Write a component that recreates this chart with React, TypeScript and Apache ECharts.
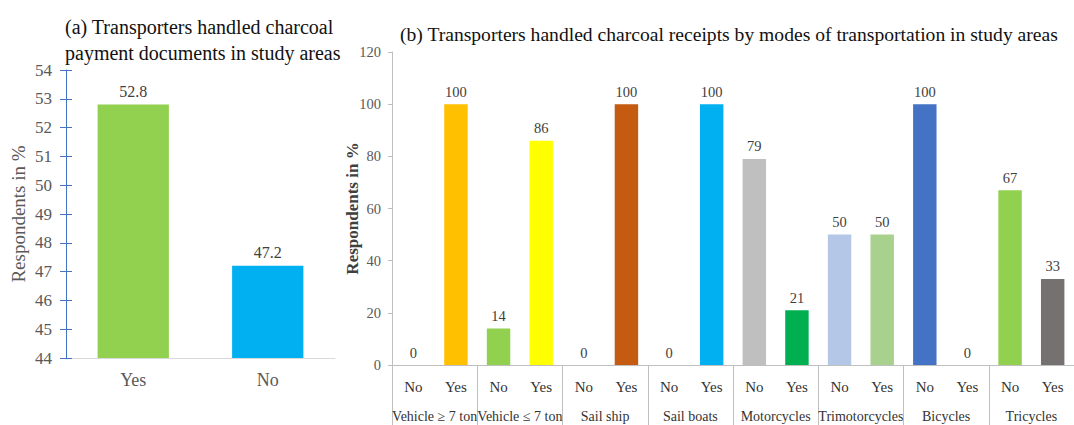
import React, { useEffect, useRef } from "react";
import * as echarts from "echarts";

// Panel (a): payment documents
const docCategories = ["Yes", "No"];
const docValues = [52.8, 47.2];
const docColors = ["#92D050", "#00B0F0"];

// Panel (b): receipts by mode of transportation
const modeGroups = [
  "Vehicle ≥ 7 ton",
  "Vehicle ≤ 7 ton",
  "Sail ship",
  "Sail boats",
  "Motorcycles",
  "Trimotorcycles",
  "Bicycles",
  "Tricycles",
];
const answerLabels = [
  "No", "Yes", "No", "Yes", "No", "Yes", "No", "Yes",
  "No", "Yes", "No", "Yes", "No", "Yes", "No", "Yes",
];
const receiptValues = [0, 100, 14, 86, 0, 100, 0, 100, 79, 21, 50, 50, 100, 0, 67, 33];
const receiptColors = [
  "#FFC000", "#FFC000",
  "#92D050", "#FFFF00",
  "#C55A11", "#C55A11",
  "#00B0F0", "#00B0F0",
  "#BFBFBF", "#00B050",
  "#B4C7E7", "#A9D18E",
  "#4472C4", "#4472C4",
  "#92D050", "#767171",
];

const FONT = "Liberation Serif";

export default function App() {
  const ref = useRef<HTMLDivElement>(null);

  useEffect(() => {
    if (!ref.current) return;
    const chart = echarts.init(ref.current, null, { renderer: "svg" });
    const axisA = {
      gridIndex: 0,
      type: "value",
      min: 44,
      max: 54,
      interval: 1,
      splitLine: { show: false },
    };
    chart.setOption({
      animation: false,
      backgroundColor: "#FFFFFF",
      textStyle: { fontFamily: FONT },
      title: [
        {
          text: "(a) Transporters handled charcoal\npayment documents in study areas",
          left: 60,
          top: 9,
          textStyle: {
            fontFamily: FONT,
            fontSize: 20,
            fontWeight: "normal",
            color: "#111111",
            lineHeight: 26,
          },
        },
        {
          text: "(b) Transporters handled charcoal receipts by modes of transportation in study areas",
          left: 395,
          top: 19,
          textStyle: {
            fontFamily: FONT,
            fontSize: 19.6,
            fontWeight: "normal",
            color: "#111111",
          },
        },
      ],
      grid: [
        { left: 66, top: 70, width: 269, height: 288 },
        { left: 392, top: 52, width: 694, height: 313 },
      ],
      xAxis: [
        {
          gridIndex: 0,
          type: "category",
          data: docCategories,
          axisLine: { lineStyle: { color: "#D9D9D9" } },
          axisTick: { show: false },
          axisLabel: { color: "#595959", fontSize: 18, margin: 13, fontFamily: FONT },
        },
        {
          gridIndex: 1,
          type: "category",
          data: answerLabels,
          axisLine: { lineStyle: { color: "#BFBFBF" } },
          axisTick: { show: false },
          axisLabel: { color: "#333333", fontSize: 15, margin: 14, interval: 0, fontFamily: FONT },
        },
        {
          gridIndex: 1,
          type: "category",
          data: modeGroups,
          position: "bottom",
          axisLine: { show: false },
          axisTick: { show: true, length: 62, lineStyle: { color: "#BFBFBF" } },
          axisLabel: { color: "#333333", fontSize: 14, margin: 44, interval: 0, fontFamily: FONT },
        },
      ],
      yAxis: [
        {
          ...axisA,
          name: "Respondents in %",
          nameLocation: "middle",
          nameGap: 38,
          nameTextStyle: { color: "#595959", fontSize: 19, fontFamily: FONT },
          axisLine: { show: true, lineStyle: { color: "#4472C4" } },
          axisTick: { show: true, length: 6, lineStyle: { color: "#4472C4" } },
          axisLabel: { color: "#595959", fontSize: 17, margin: 14, fontFamily: FONT },
        },
        {
          // inner half of the crossing tick marks
          ...axisA,
          position: "left",
          axisLine: { show: false },
          axisTick: { show: true, inside: true, length: 6, lineStyle: { color: "#4472C4" } },
          axisLabel: { show: false },
        },
        {
          gridIndex: 1,
          type: "value",
          min: 0,
          max: 120,
          interval: 20,
          name: "Respondents in %",
          nameLocation: "middle",
          nameGap: 31,
          nameMoveOverlap: false,
          nameTextStyle: { color: "#404040", fontSize: 17, fontWeight: "bold", fontFamily: FONT },
          axisLine: { show: true, lineStyle: { color: "#BFBFBF" } },
          axisTick: { show: true, length: 4, lineStyle: { color: "#BFBFBF" } },
          axisLabel: { color: "#595959", fontSize: 14.5, margin: 11, fontFamily: FONT },
          splitLine: { show: false },
        },
      ],
      series: [
        {
          type: "bar",
          xAxisIndex: 0,
          yAxisIndex: 0,
          barWidth: "53%",
          data: docValues.map((v, i) => ({ value: v, itemStyle: { color: docColors[i] } })),
          label: {
            show: true,
            position: "top",
            distance: 5,
            color: "#404040",
            fontSize: 16,
            fontFamily: FONT,
          },
        },
        {
          type: "bar",
          xAxisIndex: 1,
          yAxisIndex: 2,
          barWidth: "55%",
          data: receiptValues.map((v, i) => ({ value: v, itemStyle: { color: receiptColors[i] } })),
          label: {
            show: true,
            position: "top",
            distance: 5,
            color: "#404040",
            fontSize: 14.5,
            fontFamily: FONT,
          },
        },
      ],
    });
    return () => chart.dispose();
  }, []);

  return (
    <div
      ref={ref}
      style={{ position: "absolute", left: 0, top: 0, width: 1074, height: 425, background: "#fff" }}
    />
  );
}
